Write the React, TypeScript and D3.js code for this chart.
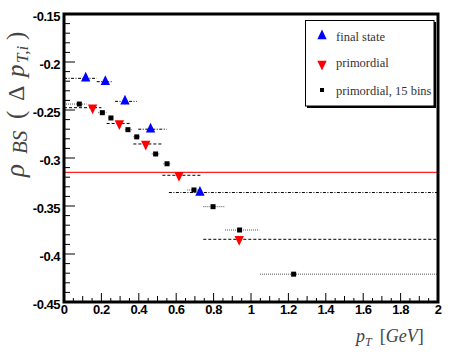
import React, { useEffect, useRef } from 'react';
import * as d3 from 'd3';

// final state (blue, up triangles)
const finalX = [0.116, 0.221, 0.326, 0.463, 0.727];
const finalY = [-0.217, -0.2205, -0.241, -0.27, -0.336];
const finalLo = [0.0, 0.175, 0.273, 0.397, 0.561];
const finalHi = [0.175, 0.255, 0.389, 0.549, 2.0];

// primordial (red, down triangles)
const primX = [0.153, 0.296, 0.437, 0.615, 0.937];
const primY = [-0.2476, -0.264, -0.2854, -0.318, -0.3847];
const primLo = [0.0, 0.228, 0.371, 0.526, 0.745];
const primHi = [0.2, 0.362, 0.522, 0.736, 2.0];

// primordial, 15 bins (black squares)
const binX = [0.082, 0.205, 0.251, 0.342, 0.389, 0.49, 0.551, 0.695, 0.797, 0.939, 1.228];
const binY = [-0.2438, -0.2528, -0.2583, -0.2705, -0.278, -0.2958, -0.306, -0.3333, -0.3507, -0.375, -0.421];
const binLo = [0.0, 0.183, 0.237, 0.326, 0.371, 0.469, 0.531, 0.659, 0.745, 0.861, 1.048];
const binHi = [0.12, 0.228, 0.264, 0.362, 0.406, 0.513, 0.57, 0.718, 0.861, 1.044, 2.0];

const refLine = -0.315;

const xTicks = [0, 0.2, 0.4, 0.6, 0.8, 1, 1.2, 1.4, 1.6, 1.8, 2];
const xTickLabels = ['0', '0.2', '0.4', '0.6', '0.8', '1', '1.2', '1.4', '1.6', '1.8', '2'];
const yTicks = [-0.45, -0.4, -0.35, -0.3, -0.25, -0.2, -0.15];
const yTickLabels = ['-0.45', '-0.4', '-0.35', '-0.3', '-0.25', '-0.2', '-0.15'];

const legendLabels = ['final state', 'primordial', 'primordial, 15 bins'];

const App = () => {
  const svgRef = useRef<SVGSVGElement>(null);

  useEffect(() => {
    const svg = d3.select(svgRef.current);
    svg.selectAll('*').remove();

    const left = 64, right = 438, top = 14, bottom = 302;
    const x = d3.scaleLinear().domain([0, 2]).range([left, right]);
    const y = d3.scaleLinear().domain([-0.45, -0.15]).range([bottom, top]);

    svg.append('rect')
      .attr('width', 458).attr('height', 354).attr('fill', 'white');

    // reference line
    svg.append('line')
      .attr('x1', x(0)).attr('x2', x(2))
      .attr('y1', y(refLine)).attr('y2', y(refLine))
      .attr('stroke', '#ff2020').attr('stroke-width', 1.3);

    // horizontal bin bars
    const bars = (xs: number[], ys: number[], lo: number[], hi: number[], dash: string, color: string) => {
      svg.append('g').selectAll('line')
        .data(xs.map((_, i) => i))
        .enter().append('line')
        .attr('x1', i => x(lo[i])).attr('x2', i => x(hi[i]))
        .attr('y1', i => y(ys[i])).attr('y2', i => y(ys[i]))
        .attr('stroke', color).attr('stroke-width', 1)
        .attr('stroke-dasharray', dash);
    };
    bars(binX, binY, binLo, binHi, '1,1', '#555');
    bars(primX, primY, primLo, primHi, '3,2', '#000');
    bars(finalX, finalY, finalLo, finalHi, '3,1.5,1,1.5', '#000');

    // small vertical errors on final state
    svg.append('g').selectAll('line')
      .data(finalX.map((_, i) => i))
      .enter().append('line')
      .attr('x1', i => x(finalX[i])).attr('x2', i => x(finalX[i]))
      .attr('y1', i => y(finalY[i] - 0.003)).attr('y2', i => y(finalY[i] + 0.003))
      .attr('stroke', '#000').attr('stroke-width', 1);

    const up = d3.symbol().type(d3.symbolTriangle).size(38);
    svg.append('g').selectAll('path')
      .data(binX.map((_, i) => i))
      .enter().append('rect')
      .attr('x', i => x(binX[i]) - 2.5).attr('y', i => y(binY[i]) - 2.5)
      .attr('width', 5).attr('height', 5).attr('fill', '#000');

    svg.append('g').selectAll('path')
      .data(primX.map((_, i) => i))
      .enter().append('path')
      .attr('d', up)
      .attr('transform', i => `translate(${x(primX[i])},${y(primY[i])}) rotate(180) scale(1,1.2)`)
      .attr('fill', '#ff0000');

    svg.append('g').selectAll('path')
      .data(finalX.map((_, i) => i))
      .enter().append('path')
      .attr('d', up)
      .attr('transform', i => `translate(${x(finalX[i])},${y(finalY[i])}) scale(1,1.2)`)
      .attr('fill', '#0000ff');

    // ticks
    const ticks = svg.append('g').attr('stroke', '#000').attr('stroke-width', 1);
    d3.range(0, 31).forEach(k => {
      const v = -0.45 + k * 0.01;
      const len = k % 5 === 0 ? 11 : 6;
      ticks.append('line')
        .attr('x1', left).attr('x2', left + len)
        .attr('y1', y(v)).attr('y2', y(v));
    });
    d3.range(0, 41).forEach(k => {
      const v = k * 0.05;
      const len = k % 4 === 0 ? 9 : (k % 2 === 0 ? 6 : 4);
      ticks.append('line')
        .attr('x1', x(v)).attr('x2', x(v))
        .attr('y1', bottom).attr('y2', bottom - len);
    });

    // frame
    svg.append('rect')
      .attr('x', left).attr('y', top)
      .attr('width', right - left).attr('height', bottom - top)
      .attr('fill', 'none').attr('stroke', '#000').attr('stroke-width', 3);

    // tick labels
    const tickFont = '"Liberation Sans", Arial, sans-serif';
    svg.append('g').selectAll('text')
      .data(yTicks.map((_, i) => i))
      .enter().append('text')
      .attr('x', 60).attr('y', i => y(yTicks[i]) + 6.5)
      .attr('text-anchor', 'end')
      .attr('font-family', tickFont).attr('font-weight', 'bold')
      .attr('font-size', 13).attr('letter-spacing', -0.5)
      .text(i => yTickLabels[i]);
    svg.append('g').selectAll('text')
      .data(xTicks.map((_, i) => i))
      .enter().append('text')
      .attr('x', i => x(xTicks[i])).attr('y', 314)
      .attr('text-anchor', 'middle')
      .attr('font-family', tickFont).attr('font-weight', 'bold')
      .attr('font-size', 13).attr('letter-spacing', -0.5)
      .text(i => xTickLabels[i]);

    // x title
    const serif = '"Liberation Serif", "Times New Roman", serif';
    const xt = svg.append('text')
      .attr('x', 356).attr('y', 342)
      .attr('font-family', serif).attr('font-size', 18)
      .attr('font-style', 'italic').attr('fill', '#444');
    xt.append('tspan').text('p');
    xt.append('tspan').attr('font-size', 12).attr('dy', 4).text('T');
    xt.append('tspan').attr('dy', -4).attr('dx', 8).attr('font-style', 'normal').text('[');
    xt.append('tspan').text('GeV');
    xt.append('tspan').attr('font-style', 'normal').text(']');

    // y title
    const yt = svg.append('text')
      .attr('transform', 'translate(24,177) rotate(-90)')
      .attr('font-family', serif).attr('font-size', 25)
      .attr('fill', '#444');
    yt.append('tspan').attr('x', 0).attr('y', 0).attr('font-size', 27).attr('font-style', 'italic').text('ρ');
    yt.append('tspan').attr('x', 23).attr('y', 3).attr('font-size', 21).attr('font-style', 'italic').text('BS');
    yt.append('tspan').attr('x', 58).attr('y', 0).text('(');
    yt.append('tspan').attr('x', 76).attr('y', 0).attr('font-size', 24).text('Δ');
    yt.append('tspan').attr('x', 100).attr('y', 0).attr('font-style', 'italic').text('p');
    yt.append('tspan').attr('x', 114).attr('y', 4).attr('font-size', 17).attr('font-style', 'italic').text('T,i');
    yt.append('tspan').attr('x', 137).attr('y', 0).text(')');

    // legend
    const lg = svg.append('g');
    lg.append('rect').attr('x', 307).attr('y', 22).attr('width', 129).attr('height', 86).attr('fill', '#000');
    lg.append('rect').attr('x', 305.5).attr('y', 20.5).attr('width', 128.5).attr('height', 85.5)
      .attr('fill', 'white').attr('stroke', '#000').attr('stroke-width', 1);
    const lgY = [37, 63, 91];
    lg.append('path').attr('d', up)
      .attr('transform', `translate(322,${lgY[0] - 1}) scale(1,1.2)`).attr('fill', '#0000ff');
    lg.append('path').attr('d', up)
      .attr('transform', `translate(322,${lgY[1] + 1}) rotate(180) scale(1,1.2)`).attr('fill', '#ff0000');
    lg.append('rect').attr('x', 320).attr('y', lgY[2] - 3).attr('width', 4).attr('height', 4).attr('fill', '#000');
    lg.selectAll('text.lab')
      .data(legendLabels)
      .enter().append('text')
      .attr('class', 'lab')
      .attr('x', 336).attr('y', (_, i) => lgY[i] + 4)
      .attr('font-family', serif).attr('font-size', 12.5)
      .attr('fill', '#333')
      .text(d => d);
  }, []);

  return (
    <svg
      ref={svgRef}
      width={458}
      height={354}
      style={{ position: 'absolute', left: 0, top: 0 }}
    />
  );
};

export default App;
